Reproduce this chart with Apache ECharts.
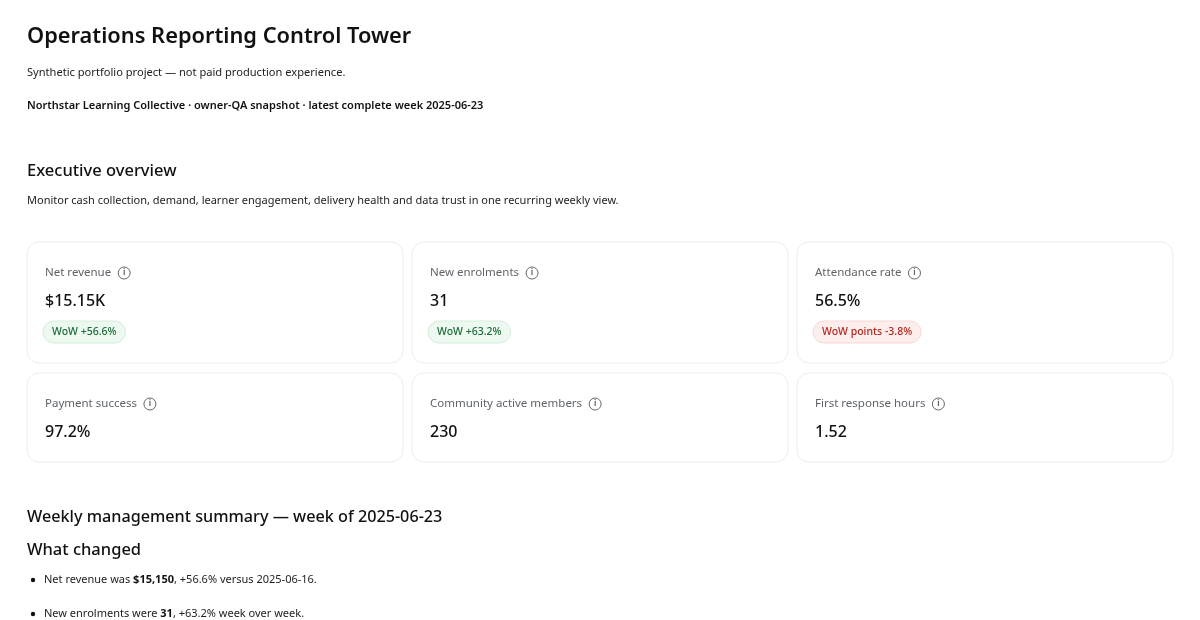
<!DOCTYPE html>
<html><head><meta charset="utf-8">
<script src="https://cdn.jsdelivr.net/npm/echarts@6/dist/echarts.min.js"></script>
<style>html,body{margin:0;padding:0;background:#fff}#c{width:1200px;height:620px}</style>
</head><body><div id="c"></div>
<script>
const FONT = '"Noto Sans", "Open Sans", sans-serif';
const kpiLabels = ['Net revenue','New enrolments','Attendance rate','Payment success','Community active members','First response hours'];
const kpiValues = ['$15.15K','31','56.5%','97.2%','230','1.52'];
const kpiBadges = ['WoW +56.6%','WoW +63.2%','WoW points -3.8%',null,null,null];
const kpiBadgeTone = ['up','up','down',null,null,null];
const bulletLines = [
  ['Net revenue was ', '$15,150', ', +56.6% versus 2025-06-16.'],
  ['New enrolments were ', '31', ', +63.2% week over week.']
];

const cv = document.createElement('canvas').getContext('2d');
function tw(t, size, weight){ cv.font = (weight||'normal')+' '+size+'px '+FONT; return cv.measureText(t).width; }

const els = [];
function txt(x,y,t,size,color,weight){
  els.push({type:'text',x:x,y:y,style:{text:t,fill:color,font:(weight||'normal')+' '+size+'px '+FONT,textVerticalAlign:'middle'}});
}
txt(27,37,'Operations Reporting Control Tower',21.8,'#111','600');
txt(27,73,'Synthetic portfolio project — not paid production experience.',11.1,'#222');
txt(27,106,'Northstar Learning Collective · owner-QA snapshot · latest complete week 2025-06-23',11,'#111','600');
txt(27,171,'Executive overview',16.5,'#111','500');
txt(27,201,'Monitor cash collection, demand, learner engagement, delivery health and data trust in one recurring weekly view.',11,'#222');

const colX = [27,412,797], cw = 376;
const rowY = [242,373], rowH = [121,89];
kpiLabels.forEach((lab,i)=>{
  const c=i%3, r=Math.floor(i/3);
  const x=colX[c], y=rowY[r];
  els.push({type:'rect',shape:{x:x,y:y,width:cw,height:rowH[r],r:12},style:{fill:'#fff',stroke:'#ececec',lineWidth:1}});
  txt(x+18,y+31,lab,11.5,'#5f6368');
  const ix = x+18+tw(lab,11.5)+13;
  els.push({type:'circle',shape:{cx:ix,cy:y+31,r:6},style:{fill:'none',stroke:'#666',lineWidth:1}});
  els.push({type:'text',x:ix,y:y+31,style:{text:'i',fill:'#666',font:'bold 8px '+FONT,textAlign:'center',textVerticalAlign:'middle'}});
  txt(x+18,y+59,kpiValues[i],16,'#111','500');
  if(kpiBadges[i]){
    const up = kpiBadgeTone[i]==='up';
    const w = tw(kpiBadges[i],10.5,'500')+18;
    els.push({type:'rect',shape:{x:x+16,y:y+79,width:w,height:22,r:11},style:{fill:up?'#ecf8f0':'#fdeeee',stroke:up?'#d3eedc':'#f8d7d7',lineWidth:1}});
    els.push({type:'text',x:x+16+w/2,y:y+90,style:{text:kpiBadges[i],fill:up?'#1d6b3a':'#b3261e',font:'500 10.5px '+FONT,textAlign:'center',textVerticalAlign:'middle'}});
  }
});
txt(27,517,'Weekly management summary — week of 2025-06-23',16.2,'#111','500');
txt(27,550,'What changed',16.5,'#111','500');
bulletLines.forEach((parts,i)=>{
  const y = 580+i*34;
  els.push({type:'circle',shape:{cx:33,cy:y,r:2.2},style:{fill:'#111'}});
  els.push({type:'text',x:44,y:y,style:{text:'{a|'+parts[0]+'}{b|'+parts[1]+'}{a|'+parts[2]+'}',textVerticalAlign:'middle',
    rich:{a:{font:'normal 11px '+FONT,fill:'#222'},b:{font:'bold 11px '+FONT,fill:'#111'}}}});
});

const chart = echarts.init(document.getElementById('c'),null,{renderer:'canvas'});
chart.setOption({backgroundColor:'#fff',graphic:{elements:els}});
</script></body></html>
